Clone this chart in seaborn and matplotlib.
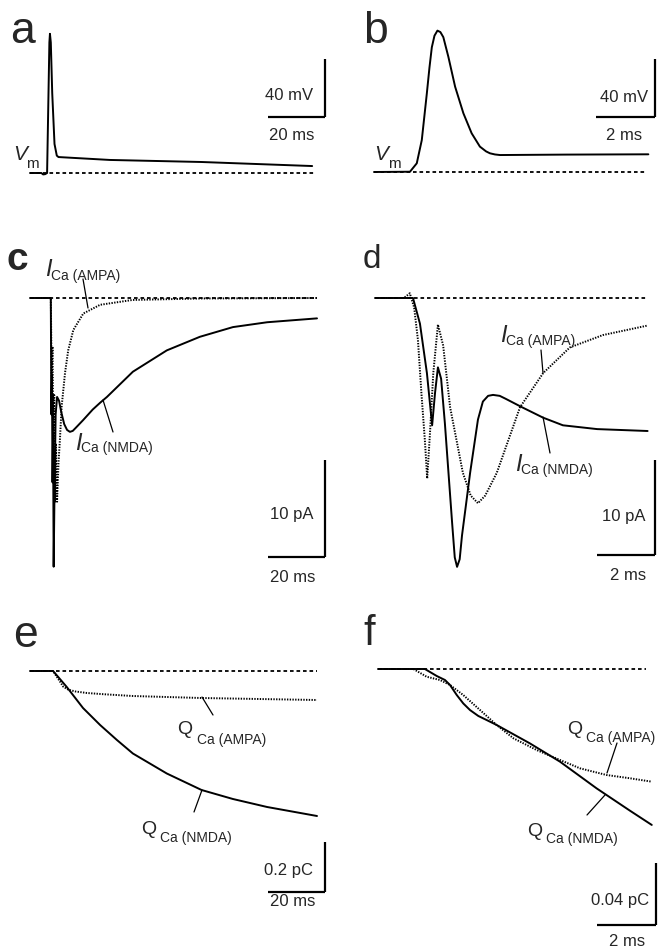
import matplotlib
matplotlib.use("Agg")
import matplotlib.pyplot as plt
from matplotlib.lines import Line2D
import seaborn as sns
import numpy as np

# ---------------- data ----------------
# panel a: membrane potential, long time scale (ms, mV)
t_a = [0, 4.0, 4.6, 5.3, 6.0, 6.4, 6.8, 7.0, 7.3, 7.8, 8.6, 9.4, 10.0, 28, 60, 99]
v_a = [0, 0, -1.0, -0.8, 0, 45, 90, 96, 90, 55, 20, 12, 11, 9, 7.6, 4.8]

# panel b: membrane potential, short time scale
t_b = [0, 1.22, 1.45, 1.62, 1.79, 1.88, 1.96, 2.05, 2.15, 2.25, 2.35, 2.52, 2.75, 3.03, 3.31,
       3.59, 3.8, 3.93, 4.1, 4.27, 6.5, 9.3]
v_b = [0, 0.2, 6, 22, 54, 72, 86, 94, 97.5, 96.5, 93, 79.5, 58.8, 40.5, 26.7,
       17.5, 14.2, 12.9, 12.1, 11.7, 12.0, 12.2]

# panel c: calcium currents, long time scale (ms, pA)
t_c_nmda = [0, 7.3, 7.5, 7.7, 7.9, 8.1, 8.3, 8.6, 9.0, 9.5, 10.2, 11, 12, 13, 14, 15, 16, 18.6,
            22, 24.6, 27, 30.5, 36.1, 48, 59.6, 71.2, 83.2, 100.7]
i_c_nmda = [0, 0, -12, -8, -19, -14, -27.7, -20, -12, -10.2, -10.6, -11.8, -13, -13.6, -13.8,
            -13.7, -13.4, -12.6, -11.5, -10.8, -10.2, -9.2, -7.6, -5.4, -4.0, -3.0, -2.5, -2.1]
t_c_ampa = [0, 7.3, 7.6, 7.9, 8.2, 8.5, 8.8, 9.1, 9.5, 10.0, 10.5, 11.1, 12.3, 13.4, 15.2,
            18.7, 24.6, 36, 60, 100.7]
i_c_ampa = [0, 0, -8, -5, -15, -10, -21, -15, -21, -17, -14.6, -11.2, -7.7, -5.4, -3.3,
            -1.6, -0.7, -0.2, -0.05, 0]

# panel d: calcium currents, short time scale
t_d_nmda = [0, 1.31, 1.55, 1.79, 1.97, 2.07, 2.17, 2.28, 2.41, 2.66, 2.75, 2.83, 2.92, 3.0,
            3.28, 3.55, 3.72, 3.9, 4.07, 4.3, 4.5, 5.07, 5.8, 6.48, 7.66, 9.4]
i_d_nmda = [0, 0, -2.7, -7.9, -13.4, -10, -7.3, -8.5, -13.2, -23.7, -27.3, -28.3, -27.5, -25,
            -18.4, -12.8, -10.9, -10.3, -10.2, -10.3, -10.6, -11.5, -12.6, -13.4, -13.8, -14.0]
t_d_ampa = [0, 1.0, 1.2, 1.35, 1.48, 1.6, 1.72, 1.8, 1.9, 2.01, 2.17, 2.35, 2.59, 3.03, 3.3,
            3.55, 3.8, 4.2, 5.0, 5.8, 6.72, 7.86, 9.4]
i_d_ampa = [0, 0, 0.5, -1, -4.4, -10, -15, -19, -14, -7.9, -2.8, -5, -11.5, -18.4, -20.8,
            -21.6, -20.8, -18.4, -11.5, -7.9, -5.2, -3.9, -2.9]

# panel e: calcium charge, long time scale (ms, pC)
t_e_nmda = [0, 8.1, 12.9, 18.6, 24.6, 30.5, 36.1, 48, 60.2, 71.2, 83.2, 100.7]
q_e_nmda = [0, 0, -0.064, -0.148, -0.216, -0.276, -0.33, -0.41, -0.476, -0.512, -0.544, -0.58]
t_e_ampa = [0, 8.1, 10.5, 11.7, 13.5, 16, 20, 26, 36, 60, 100.7]
q_e_ampa = [0, 0, -0.042, -0.063, -0.075, -0.082, -0.088, -0.093, -0.1, -0.108, -0.116]

# panel f: calcium charge, short time scale
t_f_nmda = [0, 1.59, 1.99, 2.27, 2.44, 2.67, 2.89, 3.12, 3.4, 3.68, 4.02, 5.15, 6.17, 7.41, 8.54, 9.28]
q_f_nmda = [0, 0, -0.0045, -0.0071, -0.0103, -0.0168, -0.0222, -0.0265, -0.0303, -0.0329,
            -0.0361, -0.048, -0.0598, -0.077, -0.0914, -0.1006]
t_f_ampa = [0, 1.2, 1.65, 2.1, 2.44, 2.89, 3.46, 4.02, 4.59, 5.38, 6.17, 6.85, 7.75, 8.54, 9.28]
q_f_ampa = [0, 0, -0.005, -0.0071, -0.0103, -0.0168, -0.0265, -0.0361, -0.0447, -0.0523,
            -0.0587, -0.0641, -0.0684, -0.0705, -0.0727]

# ---------------- style ----------------
sns.set_style("white")
plt.rcParams["font.family"] = ["Liberation Sans", "DejaVu Sans"]

W, H = 658, 948
fig = plt.figure(figsize=(W / 100, H / 100), dpi=100)

SOLID = dict(color="black", lw=1.4, linestyle="-")
DOTTED = dict(color="black", lw=1.4, linestyle=(0, (0.7, 0.7)))
DASH = (0, (2.0, 1.6))


def make_ax(L, T, R, B, x0, sx, y0, sy):
    """Axes on pixel rect; t=0 at pixel x0, baseline at pixel y0."""
    ax = fig.add_axes([L / W, 1 - B / H, (R - L) / W, (B - T) / H])
    ax.set_xlim((L - x0) / sx, (R - x0) / sx)
    ax.set_ylim((y0 - B) / sy, (y0 - T) / sy)
    ax.axis("off")
    return ax


def scalebar(ax, tc, vc, lt, lv):
    ax.plot([tc - lt, tc], [vc, vc], color="black", lw=1.6, solid_capstyle="butt")
    ax.plot([tc, tc], [vc, vc + lv], color="black", lw=1.6, solid_capstyle="butt")


def txt(x, y, s, size=12, ha="center", va="center", **kw):
    fig.text(x / W, 1 - y / H, s, fontsize=size, ha=ha, va=va, **kw)


def leader(x1, y1, x2, y2):
    fig.add_artist(Line2D([x1 / W, x2 / W], [1 - y1 / H, 1 - y2 / H],
                          transform=fig.transFigure, color="black", lw=0.9))


def trace(ax, t, y, style):
    sns.lineplot(x=np.asarray(t, float), y=np.asarray(y, float), ax=ax, sort=False,
                 estimator=None, solid_joinstyle="round", **style)


def baseline(ax, t0, t1):
    ax.hlines(0, t0, t1, colors="black", lw=1.3, linestyles=[DASH])


# ---- panel a ----
ax = make_ax(0, 0, 329, 200, 30, 2.85, 173, 1.45)
baseline(ax, 0, 100)
trace(ax, t_a, v_a, SOLID)
scalebar(ax, 103.5, 38.6, 20, 40)
txt(10, 43, "a", size=32, ha="left", va="baseline")
txt(289, 95, "40 mV")
txt(292, 136, "20 ms")
txt(20, 155, "V", size=15, style="italic")
txt(26, 164, "m", size=11, ha="left")

# ---- panel b ----
ax = make_ax(330, 0, 658, 200, 374, 29.5, 172, 1.45)
baseline(ax, 0, 9.25)
trace(ax, t_b, v_b, SOLID)
scalebar(ax, 9.53, 37.9, 2, 40)
txt(363, 43, "b", size=32, ha="left", va="baseline")
txt(624, 97, "40 mV")
txt(624, 136, "2 ms")
txt(381, 155, "V", size=15, style="italic")
txt(388, 164, "m", size=11, ha="left")

# ---- panel c ----
ax = make_ax(0, 200, 329, 600, 30, 2.85, 298, 9.7)
baseline(ax, 0, 100.7)
trace(ax, t_c_ampa, i_c_ampa, DOTTED)
trace(ax, t_c_nmda, i_c_nmda, SOLID)
scalebar(ax, 103.5, -26.7, 20, 10)
txt(7, 270, "c", size=28, ha="left", va="baseline", weight="bold")
txt(292, 515, "10 pA")
txt(293, 577, "20 ms")
txt(48, 270, "I", size=17, style="italic")
txt(51, 276, "Ca (AMPA)", size=10, ha="left")
leader(83, 279, 88, 308)
txt(78, 443, "I", size=17, style="italic")
txt(81, 448, "Ca (NMDA)", size=10, ha="left")
leader(113, 432, 103, 400)

# ---- panel d ----
ax = make_ax(330, 200, 658, 600, 375, 29.0, 298, 9.5)
baseline(ax, 0, 9.4)
trace(ax, t_d_ampa, i_d_ampa, DOTTED)
trace(ax, t_d_nmda, i_d_nmda, SOLID)
scalebar(ax, 9.66, -27.05, 2, 10)
txt(363, 268, "d", size=24, ha="left", va="baseline")
txt(624, 517, "10 pA")
txt(628, 575, "2 ms")
txt(503, 336, "I", size=17, style="italic")
txt(506, 341, "Ca (AMPA)", size=10, ha="left")
leader(541, 350, 543, 373)
txt(518, 465, "I", size=17, style="italic")
txt(521, 470, "Ca (NMDA)", size=10, ha="left")
leader(550, 453, 543, 417)

# ---- panel e ----
ax = make_ax(0, 600, 329, 948, 30, 2.85, 671, 250)
baseline(ax, 0, 100.7)
trace(ax, t_e_ampa, q_e_ampa, DOTTED)
trace(ax, t_e_nmda, q_e_nmda, SOLID)
scalebar(ax, 103.5, -0.884, 20, 0.2)
txt(13, 647, "e", size=32, ha="left", va="baseline")
txt(288, 870, "0.2 pC")
txt(293, 901, "20 ms")
txt(185, 730, "Q", size=14)
txt(197, 740, "Ca (AMPA)", size=10, ha="left")
leader(202, 697, 213, 715)
txt(149, 830, "Q", size=14)
txt(160, 838, "Ca (NMDA)", size=10, ha="left")
leader(202, 790, 194, 812)

# ---- panel f ----
ax = make_ax(330, 600, 658, 948, 378, 29.5, 669, 1550)
baseline(ax, 0, 9.1)
trace(ax, t_f_ampa, q_f_ampa, DOTTED)
trace(ax, t_f_nmda, q_f_nmda, SOLID)
scalebar(ax, 9.42, -0.165, 2, 0.04)
txt(363, 645, "f", size=30, ha="left", va="baseline")
txt(620, 900, "0.04 pC")
txt(627, 942, "2 ms")
txt(575, 730, "Q", size=14)
txt(586, 738, "Ca (AMPA)", size=10, ha="left")
leader(617, 743, 607, 773)
txt(535, 832, "Q", size=14)
txt(546, 839, "Ca (NMDA)", size=10, ha="left")
leader(587, 815, 605, 795)

fig.savefig("out.png", dpi=100, facecolor="white")
